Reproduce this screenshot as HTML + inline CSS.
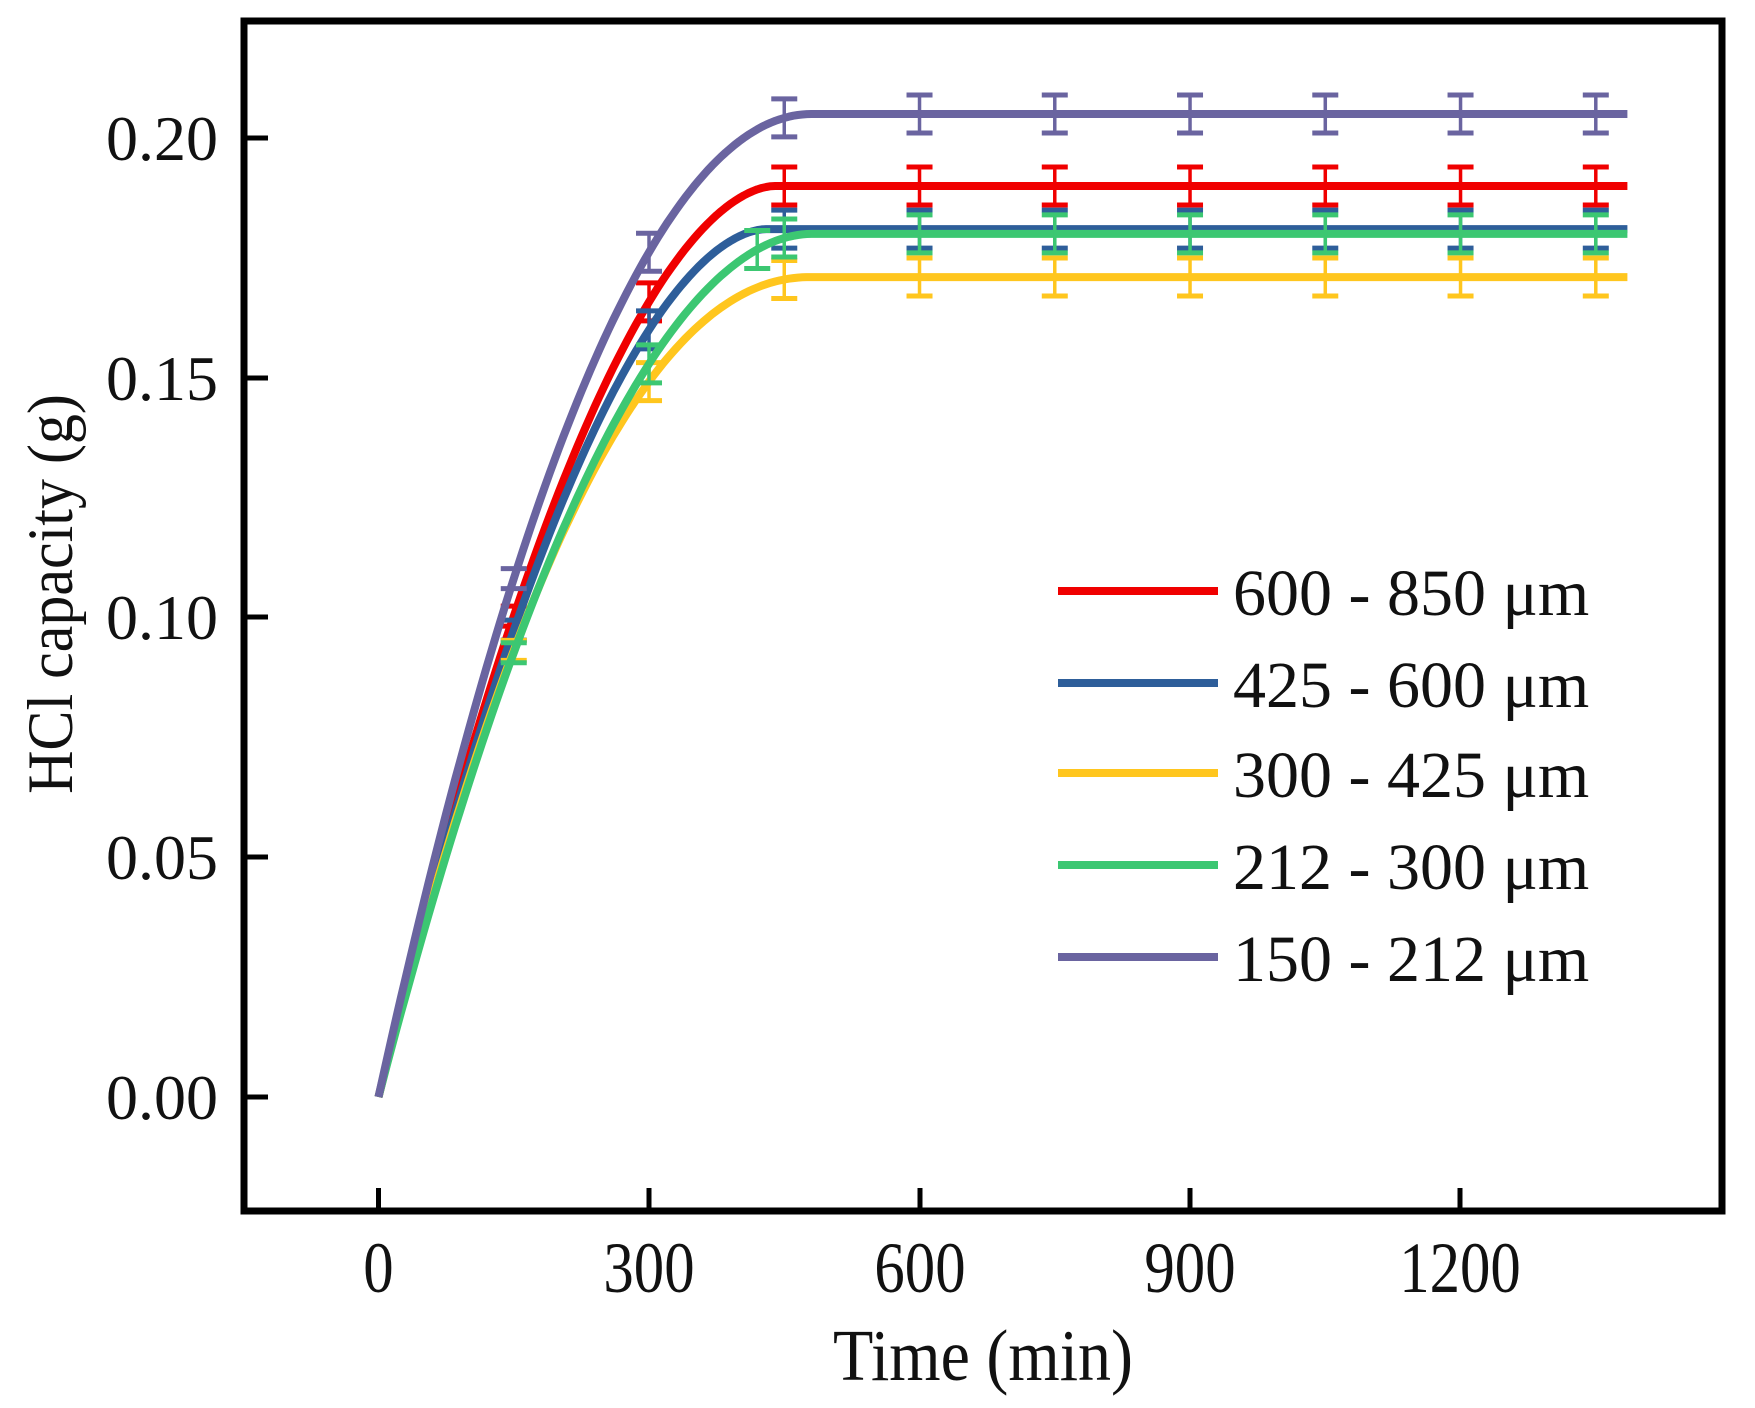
<!DOCTYPE html>
<html><head><meta charset="utf-8"><style>
html,body{margin:0;padding:0;background:#fff;}
svg{display:block;}
text{font-family:"Liberation Serif",serif;fill:#111;}
</style></head><body>
<svg id="s" width="1755" height="1408" viewBox="0 0 1755 1408" xmlns="http://www.w3.org/2000/svg">
<rect x="0" y="0" width="1755" height="1408" fill="#fff"/>
<g id="data"></g>
<rect x="244" y="21" width="1478" height="1190" fill="none" stroke="#000" stroke-width="7"/>
<g stroke="#000" stroke-width="5">
<line x1="247" y1="138" x2="268" y2="138"/>
<line x1="247" y1="378" x2="268" y2="378"/>
<line x1="247" y1="617" x2="268" y2="617"/>
<line x1="247" y1="857" x2="268" y2="857"/>
<line x1="247" y1="1097" x2="268" y2="1097"/>
<line x1="378.5" y1="1208" x2="378.5" y2="1188"/>
<line x1="649" y1="1208" x2="649" y2="1188"/>
<line x1="920" y1="1208" x2="920" y2="1188"/>
<line x1="1190" y1="1208" x2="1190" y2="1188"/>
<line x1="1460" y1="1208" x2="1460" y2="1188"/>
</g>
<g font-size="64" text-anchor="end">
<text x="218" y="160">0.20</text>
<text x="218" y="400">0.15</text>
<text x="218" y="639">0.10</text>
<text x="218" y="879">0.05</text>
<text x="218" y="1119">0.00</text>
</g>
<g font-size="64" text-anchor="middle">
<text transform="translate(378.5,1292) scale(0.95,1.12)">0</text>
<text transform="translate(649,1292) scale(0.95,1.12)">300</text>
<text transform="translate(920,1292) scale(0.95,1.12)">600</text>
<text transform="translate(1190,1292) scale(0.95,1.12)">900</text>
<text transform="translate(1460,1292) scale(0.95,1.12)">1200</text>
</g>
<text font-size="66" text-anchor="middle" transform="translate(983,1380) scale(1,1.1)">Time (min)</text>
<text font-size="60" text-anchor="middle" transform="translate(72,594) rotate(-90) scale(1,1.08)">HCl capacity (g)</text>
<g font-size="66">
<line x1="1058" y1="591" x2="1218" y2="591" stroke="#f00000" stroke-width="8"/>
<text x="1233" y="615">600 - 850 μm</text>
<line x1="1058" y1="683" x2="1218" y2="683" stroke="#2e5e9a" stroke-width="8"/>
<text x="1233" y="707">425 - 600 μm</text>
<line x1="1058" y1="773" x2="1218" y2="773" stroke="#ffc61e" stroke-width="8"/>
<text x="1233" y="797">300 - 425 μm</text>
<line x1="1058" y1="865" x2="1218" y2="865" stroke="#3cc772" stroke-width="8"/>
<text x="1233" y="889">212 - 300 μm</text>
<line x1="1058" y1="957" x2="1218" y2="957" stroke="#6a64a0" stroke-width="8"/>
<text x="1233" y="981">150 - 212 μm</text>
</g>
</svg>
<script>
(function(){
var NS="http://www.w3.org/2000/svg";
var g=document.getElementById("data");
function X(t){return 378.5+t*0.9017;}
function Y(v){return 1097-v*4795;}
var series=[
 {c:"#f00000",V:0.190,T:440,p:1.8},
 {c:"#2e5e9a",V:0.181,T:430,p:1.8},
 {c:"#ffc61e",V:0.171,T:480,p:2.1},
 {c:"#3cc772",V:0.180,T:480,p:1.93,extra:[420]},
 {c:"#6a64a0",V:0.205,T:480,p:2.0}
];
function f(s,t){if(t>=s.T)return s.V;return s.V*(1-Math.pow(1-t/s.T,s.p));}
function el(n,a){var e=document.createElementNS(NS,n);for(var k in a)e.setAttribute(k,a[k]);g.appendChild(e);return e;}
series.forEach(function(s){
 var d="";
 for(var t=0;t<=1385;t+=5){d+=(t?"L":"M")+X(t).toFixed(1)+" "+Y(f(s,t)).toFixed(1);}
 el("path",{d:d,fill:"none",stroke:s.c,"stroke-width":8,"stroke-linejoin":"round"});
 var ts=[150,300,450,600,750,900,1050,1200,1350].concat(s.extra||[]);
 ts.forEach(function(t){
  var x=X(t),y=Y(f(s,t)),h=(t<200?10:19);
  el("line",{x1:x,y1:y-h,x2:x,y2:y+h,stroke:s.c,"stroke-width":3.5});
  el("line",{x1:x-13,y1:y-h,x2:x+13,y2:y-h,stroke:s.c,"stroke-width":5});
  el("line",{x1:x-13,y1:y+h,x2:x+13,y2:y+h,stroke:s.c,"stroke-width":5});
 });
});
})();
</script>
</body></html>
